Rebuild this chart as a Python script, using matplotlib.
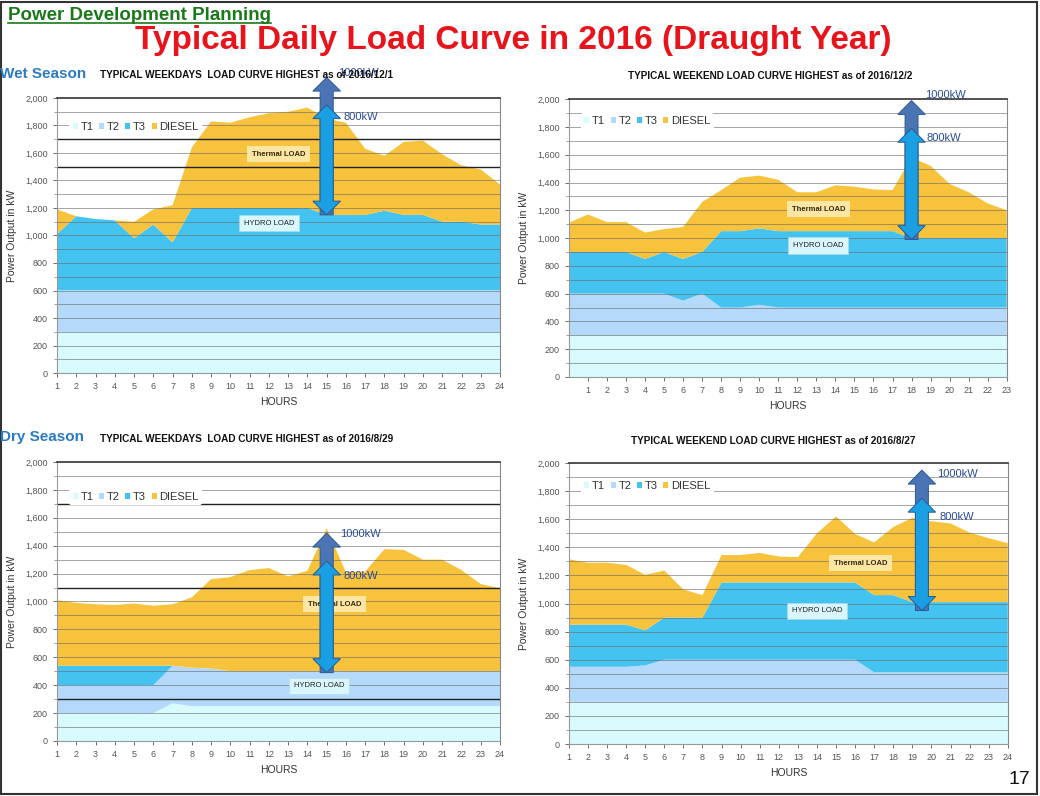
import matplotlib
matplotlib.use('Agg')
import matplotlib.pyplot as plt
from matplotlib.patches import Polygon, Patch, Rectangle
from matplotlib.lines import Line2D
from matplotlib.ticker import FuncFormatter
import numpy as np

plt.rcParams['font.family'] = ['Liberation Sans', 'DejaVu Sans']

# ---- data (kW) ----
series_names = ['T1', 'T2', 'T3', 'DIESEL']

wet_wd_hours = [1, 2, 3, 4, 5, 6, 7, 8, 9, 10, 11, 12, 13, 14, 15, 16, 17, 18, 19, 20, 21, 22, 23, 24]
wet_wd_t1 = [300, 300, 300, 300, 300, 300, 300, 300, 300, 300, 300, 300, 300, 300, 300, 300, 300, 300, 300, 300, 300, 300, 300, 300]
wet_wd_t2 = [300, 300, 300, 300, 300, 300, 300, 300, 300, 300, 300, 300, 300, 300, 300, 300, 300, 300, 300, 300, 300, 300, 300, 300]
wet_wd_t3 = [410, 540, 520, 510, 380, 480, 350, 600, 600, 600, 600, 600, 600, 600, 550, 550, 550, 580, 550, 550, 500, 500, 480, 480]
wet_wd_diesel = [180, 0, 0, 0, 120, 110, 270, 440, 630, 620, 660, 690, 700, 730, 700, 670, 480, 400, 530, 540, 490, 410, 400, 290]

wet_we_hours = [0, 1, 2, 3, 4, 5, 6, 7, 8, 9, 10, 11, 12, 13, 14, 15, 16, 17, 18, 19, 20, 21, 22, 23]
wet_we_t1 = [300, 300, 300, 300, 300, 300, 300, 300, 300, 300, 300, 300, 300, 300, 300, 300, 300, 300, 300, 300, 300, 300, 300, 300]
wet_we_t2 = [300, 300, 300, 300, 300, 300, 250, 300, 200, 200, 220, 200, 200, 200, 200, 200, 200, 200, 200, 200, 200, 200, 200, 200]
wet_we_t3 = [300, 300, 300, 300, 250, 300, 300, 300, 550, 550, 550, 550, 550, 550, 550, 550, 550, 550, 500, 500, 500, 500, 500, 500]
wet_we_diesel = [210, 270, 215, 215, 190, 165, 230, 360, 295, 385, 380, 370, 280, 280, 330, 320, 300, 295, 580, 520, 390, 330, 250, 200]

dry_wd_hours = [1, 2, 3, 4, 5, 6, 7, 8, 9, 10, 11, 12, 13, 14, 15, 16, 17, 18, 19, 20, 21, 22, 23, 24]
dry_wd_t1 = [200, 200, 200, 200, 200, 200, 270, 250, 250, 250, 250, 250, 250, 250, 250, 250, 250, 250, 250, 250, 250, 250, 250, 250]
dry_wd_t2 = [200, 200, 200, 200, 200, 200, 270, 275, 270, 250, 250, 250, 250, 250, 250, 250, 250, 250, 250, 250, 250, 250, 250, 250]
dry_wd_t3 = [140, 140, 140, 140, 140, 140, 0, 0, 0, 0, 0, 0, 0, 0, 0, 0, 0, 0, 0, 0, 0, 0, 0, 0]
dry_wd_diesel = [470, 450, 440, 435, 445, 430, 440, 505, 640, 675, 725, 740, 680, 720, 1025, 710, 715, 875, 870, 800, 800, 725, 625, 595]

dry_we_hours = [1, 2, 3, 4, 5, 6, 7, 8, 9, 10, 11, 12, 13, 14, 15, 16, 17, 18, 19, 20, 21, 22, 23, 24]
dry_we_t1 = [300, 300, 300, 300, 300, 300, 300, 300, 300, 300, 300, 300, 300, 300, 300, 300, 300, 300, 300, 300, 300, 300, 300, 300]
dry_we_t2 = [250, 250, 250, 250, 260, 300, 300, 300, 300, 300, 300, 300, 300, 300, 300, 300, 210, 210, 210, 210, 210, 210, 210, 210]
dry_we_t3 = [300, 300, 300, 300, 250, 300, 300, 300, 550, 550, 550, 550, 550, 550, 550, 550, 550, 550, 500, 500, 500, 500, 500, 500]
dry_we_diesel = [465, 440, 440, 425, 395, 335, 200, 160, 195, 195, 210, 185, 180, 350, 470, 345, 375, 485, 600, 575, 560, 495, 455, 420]

# arrow annotations: x position, bottom, top of 800kW and 1000kW arrows
arrow_x = [15, 18, 15, 19.5]
arrow_bottom = [1150, 990, 490, 950]
arrow_800_top = [1950, 1790, 1290, 1750]
arrow_1000_top = [2150, 1990, 1490, 1950]

panel_titles = [
    'TYPICAL WEEKDAYS  LOAD CURVE HIGHEST as of 2016/12/1',
    'TYPICAL WEEKEND LOAD CURVE HIGHEST as of 2016/12/2',
    'TYPICAL WEEKDAYS  LOAD CURVE HIGHEST as of 2016/8/29',
    'TYPICAL WEEKEND LOAD CURVE HIGHEST as of 2016/8/27',
]

colors = ['#d8fbfd', '#b5d9fa', '#45c3f0', '#f7c33c']
dark_arrow = '#4b74b5'
light_arrow = '#1a9fe3'
label_blue = '#2a4a9a'


def block_arrow(ax, x, y0, y1, color, double=True):
    sw, hw, hl = 0.34, 0.72, 100
    if double:
        pts = [(x, y0), (x + hw, y0 + hl), (x + sw, y0 + hl), (x + sw, y1 - hl),
               (x + hw, y1 - hl), (x, y1), (x - hw, y1 - hl), (x - sw, y1 - hl),
               (x - sw, y0 + hl), (x - hw, y0 + hl)]
    else:
        pts = [(x + sw, y0), (x + sw, y1 - hl), (x + hw, y1 - hl), (x, y1),
               (x - hw, y1 - hl), (x - sw, y1 - hl), (x - sw, y0)]
    ax.add_patch(Polygon(pts, closed=True, fc=color, ec='#2b5c94', lw=0.7,
                         clip_on=False, zorder=6))


def draw_panel(ax, hours, t1, t2, t3, diesel, xlim, xticks, dark_lines, legend_y,
               idx, thermal_xy, hydro_xy, k1000_xy, k800_xy):
    ax.stackplot(hours, t1, t2, t3, diesel, colors=colors, labels=series_names,
                 zorder=1, lw=0)
    ax.set_xlim(*xlim)
    ax.set_ylim(0, 2000)
    ax.set_xticks(xticks)
    ax.set_yticks(range(0, 2001, 200))
    ax.set_yticks(range(0, 2001, 100), minor=True)
    ax.yaxis.set_major_formatter(FuncFormatter(lambda v, p: f'{int(v):,}'))
    ax.tick_params(axis='both', labelsize=6.5, colors='#555555', length=3, width=0.6)
    ax.tick_params(axis='y', which='minor', length=2, width=0.5, colors='#777777')
    for lvl in range(100, 2000, 100):
        ax.axhline(lvl, color='#6a6a6a', lw=0.6, alpha=0.7, zorder=2)
    for lvl in dark_lines:
        ax.axhline(lvl, color='#222222', lw=1.0, zorder=2)
    for side in ['left', 'bottom']:
        ax.spines[side].set_color('#999999')
        ax.spines[side].set_linewidth(0.8)
    ax.spines['top'].set_color('#333333')
    ax.spines['top'].set_linewidth(1.2)
    ax.spines['right'].set_color('#888888')
    ax.set_ylabel('Power Output in kW', fontsize=7.5, color='#333333', labelpad=6)
    ax.set_xlabel('HOURS', fontsize=7.5, color='#333333', labelpad=4)

    handles = [Patch(facecolor=c, edgecolor='none') for c in colors]
    leg = ax.legend(handles, series_names, loc='center left', ncol=4,
                    bbox_to_anchor=(0.015, legend_y), fontsize=8, frameon=True,
                    handlelength=0.45, handleheight=0.45, handletextpad=0.25,
                    columnspacing=0.5, borderpad=0.3, labelcolor='#333333')
    leg.get_frame().set_facecolor('white')
    leg.get_frame().set_edgecolor('none')
    leg.get_frame().set_alpha(1)
    leg.set_zorder(4)

    ax.text(*thermal_xy, 'Thermal LOAD', fontsize=5.5, fontweight='bold', color='#3a2a10',
            ha='center', va='center', zorder=5,
            bbox=dict(boxstyle='square,pad=0.6', fc='#fcebb0', ec='none', alpha=0.9))
    ax.text(*hydro_xy, 'HYDRO LOAD', fontsize=5.5, color='#222222',
            ha='center', va='center', zorder=5,
            bbox=dict(boxstyle='square,pad=0.6', fc='#d8f6fc', ec='#b0dde8', lw=0.4))

    block_arrow(ax, arrow_x[idx], arrow_bottom[idx], arrow_1000_top[idx], dark_arrow, double=False)
    block_arrow(ax, arrow_x[idx], arrow_bottom[idx], arrow_800_top[idx], light_arrow, double=True)
    ax.text(*k1000_xy, '1000kW', fontsize=8, color=label_blue, ha='left', va='center',
            zorder=7, clip_on=False)
    ax.text(*k800_xy, '800kW', fontsize=8, color=label_blue, ha='left', va='center',
            zorder=7, clip_on=False)


fig = plt.figure(figsize=(10.4, 7.96), dpi=100)

ax_tl = fig.add_axes([0.0548, 0.5314, 0.426, 0.3455])
ax_tr = fig.add_axes([0.547, 0.5264, 0.421, 0.349])
ax_bl = fig.add_axes([0.0548, 0.0691, 0.426, 0.3505])
ax_br = fig.add_axes([0.547, 0.0653, 0.422, 0.353])

draw_panel(ax_tl, wet_wd_hours, wet_wd_t1, wet_wd_t2, wet_wd_t3, wet_wd_diesel,
           (1, 24), wet_wd_hours, [1500, 1700], 0.895, 0,
           (12.5, 1590), (12.0, 1090), (15.6, 2180), (15.85, 1860))
draw_panel(ax_tr, wet_we_hours, wet_we_t1, wet_we_t2, wet_we_t3, wet_we_diesel,
           (0, 23), wet_we_hours[1:], [], 0.92, 1,
           (13.1, 1207), (13.1, 947), (18.7, 2030), (18.8, 1720))
draw_panel(ax_bl, dry_wd_hours, dry_wd_t1, dry_wd_t2, dry_wd_t3, dry_wd_diesel,
           (1, 24), dry_wd_hours, [300, 1100, 1700], 0.875, 2,
           (15.4, 980), (14.6, 395), (15.7, 1484), (15.85, 1183))
draw_panel(ax_br, dry_we_hours, dry_we_t1, dry_we_t2, dry_we_t3, dry_we_diesel,
           (1, 24), dry_we_hours, [], 0.918, 3,
           (16.3, 1287), (14.0, 948), (20.3, 1922), (20.4, 1616))

# headers
t_pdp = fig.text(8 / 1040, 1 - 16 / 796, 'Power Development Planning',
                 fontsize=13.5, fontweight='bold', color='#1a7a1a', ha='left', va='center')
fig.text(513 / 1040, 1 - 40 / 796, 'Typical Daily Load Curve in 2016 (Draught Year)',
         fontsize=24, fontweight='bold', color='#e8141c',
         ha='center', va='center')

fig.text(0.0, 1 - 74 / 796, 'Wet Season', fontsize=11, fontweight='bold',
         color='#2b7bc0', ha='left', va='center')
fig.text(0.0, 1 - 437 / 796, 'Dry Season', fontsize=11, fontweight='bold',
         color='#2b7bc0', ha='left', va='center')
fig.text(100 / 1040, 1 - 75 / 796, panel_titles[0], fontsize=7.2, fontweight='bold',
         color='#111111', ha='left', va='center')
fig.text(770 / 1040, 1 - 76 / 796, panel_titles[1], fontsize=7.2, fontweight='bold',
         color='#111111', ha='center', va='center')
fig.text(100 / 1040, 1 - 439 / 796, panel_titles[2], fontsize=7.2, fontweight='bold',
         color='#111111', ha='left', va='center')
fig.text(773 / 1040, 1 - 441 / 796, panel_titles[3], fontsize=7.2, fontweight='bold',
         color='#111111', ha='center', va='center')
fig.text(1030 / 1040, 1 - 780 / 796, '17', fontsize=14, color='#111111',
         ha='right', va='center')

# underline for the section header
fig.canvas.draw()
bb = t_pdp.get_window_extent(renderer=fig.canvas.get_renderer())
inv = fig.transFigure.inverted()
(x0, y0), (x1, y1) = inv.transform([(bb.x0, bb.y0), (bb.x1, bb.y1)])
fig.add_artist(Line2D([x0, x1], [y0 + 0.002, y0 + 0.002], color='#1a7a1a', lw=1.2,
                      transform=fig.transFigure))

# slide frame
fig.add_artist(Rectangle((0.001, 0.002), 0.996, 0.996, transform=fig.transFigure,
                         fill=False, ec='#333333', lw=1.5))

fig.savefig('out.png', dpi=100)
